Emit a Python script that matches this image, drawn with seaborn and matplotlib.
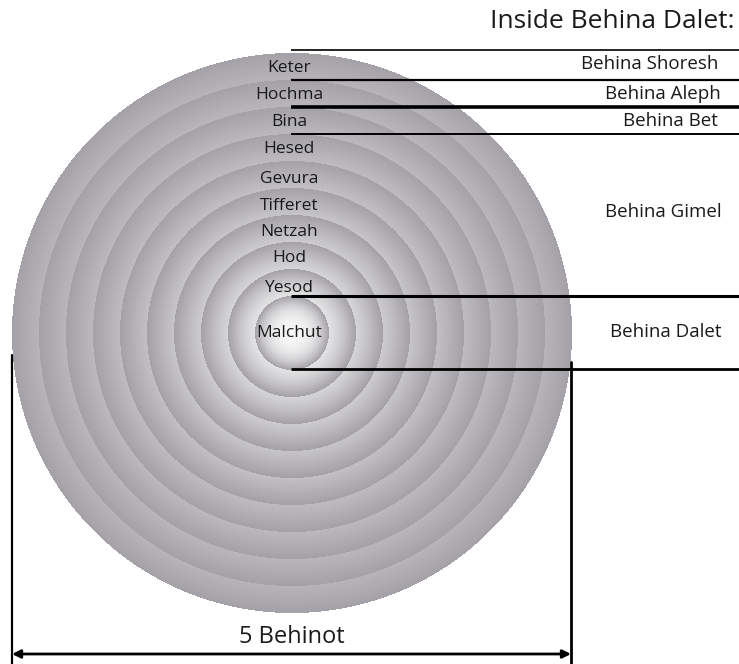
import numpy as np
import matplotlib.pyplot as plt
import seaborn as sns

# Sefirot from outside in, with the radius of each disc (px)
sefirot = ["Keter", "Hochma", "Bina", "Hesed", "Gevura", "Tifferet",
           "Netzah", "Hod", "Yesod", "Malchut"]
radii = [280, 253, 226, 199, 172, 145, 118, 91, 64, 37]
label_y = [68, 95, 122, 149, 179, 206, 232, 258, 288, 333]

# Behinot on the right side
behinot = ["Behina Shoresh", "Behina Aleph", "Behina Bet", "Behina Gimel", "Behina Dalet"]
behinot_y = [64, 94, 121, 212, 332]
behinot_x = [718, 721, 718, 663, 666]
behinot_ha = ["right", "right", "right", "center", "center"]
divider_y = [50, 80, 107, 134, 296, 369]
divider_lw = [1.2, 1.6, 2.6, 1.4, 2.2, 2.0]

cx, cy = 292, 333
W, H = 739, 664

sns.set_style("white")
plt.rcParams["font.family"] = ["Open Sans", "DejaVu Sans"]

fig = plt.figure(figsize=(W / 100, H / 100), dpi=100)
ax = fig.add_axes([0, 0, 1, 1])
ax.set_xlim(0, W)
ax.set_ylim(H, 0)
ax.axis("off")

# stacked discs, each shaded from light centre to grey rim
cmap = sns.blend_palette(["#f7f7f7", "#a4a1a7"], as_cmap=True)
yy, xx = np.mgrid[0:H, 0:W] + 0.5
rr = np.hypot(xx - cx, yy - cy)
img = np.full((H, W), np.nan)
for R in radii:
    inside = rr <= R
    img[inside] = (rr[inside] / R) ** 2.6
rgba = cmap(np.nan_to_num(img))
rgba[np.isnan(img)] = (1, 1, 1, 0)
ax.imshow(rgba, extent=(0, W, H, 0), interpolation="bilinear", zorder=1)

for name, y in zip(sefirot, label_y):
    ax.text(cx - 3, y, name, ha="center", va="center", fontsize=12.5, color="#1a1a1a", zorder=3)

for y, lw in zip(divider_y, divider_lw):
    ax.plot([cx - 1, W], [y, y], color="black", lw=lw, solid_capstyle="butt", zorder=2)

for name, x, y, ha in zip(behinot, behinot_x, behinot_y, behinot_ha):
    ax.text(x, y, name, ha=ha, va="center", fontsize=13.5, color="#1a1a1a")

ax.text(735, 22, "Inside Behina Dalet:", ha="right", va="center", fontsize=19, color="#1a1a1a")

# width marker
left, right = cx - radii[0], cx + radii[0] - 1
ax.plot([left, left], [355, H], color="black", lw=1.6)
ax.plot([right, right], [362, H], color="black", lw=2)
ax.annotate("", xy=(left, 654), xytext=(right, 654),
            arrowprops=dict(arrowstyle="<|-|>", color="black", lw=2,
                            mutation_scale=12, shrinkA=0, shrinkB=0))
ax.text(cx, 637, "5 Behinot", ha="center", va="center", fontsize=17, color="#1a1a1a")

plt.savefig("out.png", dpi=100)
